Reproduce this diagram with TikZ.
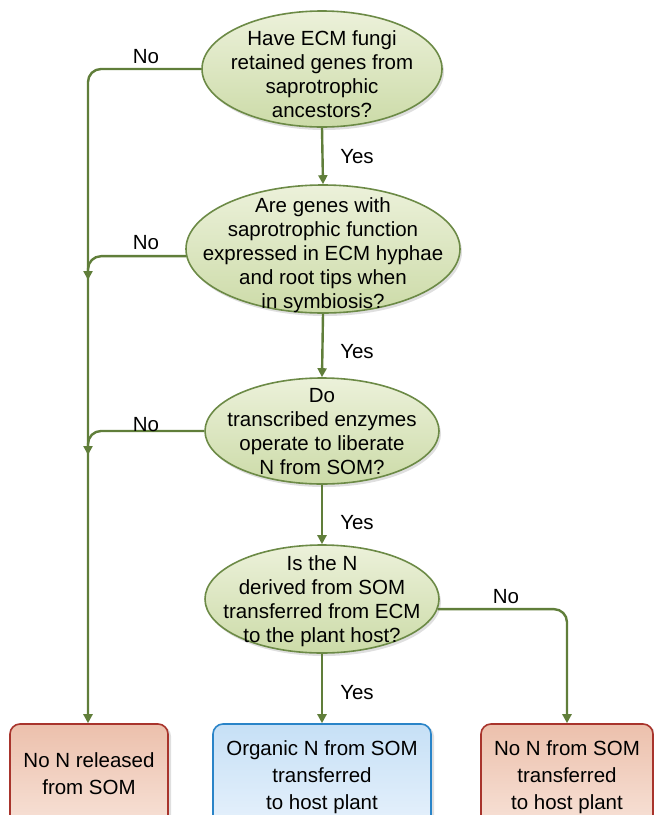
\documentclass[tikz,border=0pt]{standalone}
\usepackage{fontspec}
\setmainfont{Liberation Sans}
\usetikzlibrary{arrows.meta,shapes.geometric,shadows}
\definecolor{flowgreen}{RGB}{96,126,58}
\definecolor{ellborder}{RGB}{108,138,70}
\definecolor{elltop}{RGB}{236,241,218}
\definecolor{ellbot}{RGB}{204,219,168}
\definecolor{redborder}{RGB}{168,52,44}
\definecolor{redtop}{RGB}{236,192,172}
\definecolor{redbot}{RGB}{248,228,218}
\definecolor{blueborder}{RGB}{42,132,200}
\definecolor{bluetop}{RGB}{198,224,246}
\definecolor{bluebot}{RGB}{232,242,252}
\begin{document}
\begin{tikzpicture}[x=1pt,y=-1pt,
  txt/.style={font=\fontsize{20.5}{24}\selectfont, text=black},
  boxtxt/.style={font=\fontsize{20.5}{27}\selectfont, text=black, align=center, inner sep=0pt},
  question/.style={ellipse, draw=ellborder, line width=1.6pt, top color=elltop, bottom color=ellbot,
    inner sep=0pt,
    drop shadow={opacity=0.25, shadow xshift=2pt, shadow yshift=-3pt}},
  qtext/.style={txt, align=center, inner sep=0pt},
  redbox/.style={rectangle, rounded corners=10pt, draw=redborder, line width=1.6pt,
    top color=redtop, bottom color=redbot, inner sep=0pt,
    drop shadow={opacity=0.25, shadow xshift=3pt, shadow yshift=-2pt}},
  bluebox/.style={rectangle, rounded corners=10pt, draw=blueborder, line width=1.6pt,
    top color=bluetop, bottom color=bluebot, inner sep=0pt,
    drop shadow={opacity=0.25, shadow xshift=3pt, shadow yshift=-2pt}},
  flow/.style={draw=flowgreen, line width=2.4pt, rounded corners=13pt,
    -{Triangle[length=9pt,width=9pt]}},
  lbl/.style={txt, inner sep=0pt}
]
\useasboundingbox (0,0) rectangle (654,815);
\begin{scope}
\clip (0,0) rectangle (654,815);

\node[question, minimum width=240pt, minimum height=116pt] (e1) at (322,69) {};
\node[qtext] (t1) at (322,74)
  {Have ECM fungi\\retained genes from\\saprotrophic\\ancestors?};
\node[question, minimum width=274pt, minimum height=128pt] (e2) at (323,249) {};
\node[qtext] (t2) at (323,255)
  {Are genes with\\saprotrophic function\\expressed in ECM hyphae\\and root tips when\\in symbiosis?};
\node[question, minimum width=234pt, minimum height=106pt] (e3) at (322,431) {};
\node[qtext] (t3) at (322,432)
  {Do\\transcribed enzymes\\operate to liberate\\N from SOM?};
\node[question, minimum width=234pt, minimum height=108pt] (e4) at (322,599) {};
\node[qtext] (t4) at (322,601)
  {Is the N\\derived from SOM\\transferred from ECM\\to the plant host?};

\node[redbox, minimum width=158pt, minimum height=110pt] (b1) at (89,779) {};
\node[boxtxt] (bt1) at (89,774) {No N released\\from SOM};
\node[bluebox, minimum width=218pt, minimum height=110pt] (b2) at (322,779) {};
\node[boxtxt] (bt2) at (322,777) {Organic N from SOM\\transferred\\to host plant};
\node[redbox, minimum width=172pt, minimum height=110pt] (b3) at (567,779) {};
\node[boxtxt] (bt3) at (567,777) {No N from SOM\\transferred\\to host plant};

\coordinate (m2) at (88,280);
\coordinate (m3) at (88,455);

% Yes arrows
\draw[flow] (e1.south) -- (e2.north);
\draw[flow] (e2.south) -- (e3.north);
\draw[flow] (e3.south) -- (e4.north);
\draw[flow] (e4.south) -- (b2.north);

% No arrows
\draw[flow] (e1.180.6) -| (b1.north -| m2);
\draw[flow] (e2.183.4) -| (m2);
\draw[flow] (e3.180.3) -| (m3);
\draw[flow] (e4.-5.3) -| (b3.north);

\node[lbl] (y1) at (357,157) {Yes};
\node[lbl] (y2) at (357,352) {Yes};
\node[lbl] (y3) at (357,523) {Yes};
\node[lbl] (y4) at (357,693) {Yes};
\node[lbl] (n1) at (146,57) {No};
\node[lbl] (n2) at (146,243) {No};
\node[lbl] (n3) at (146,425) {No};
\node[lbl] (n4) at (506,597) {No};
\end{scope}
\end{tikzpicture}
\end{document}
